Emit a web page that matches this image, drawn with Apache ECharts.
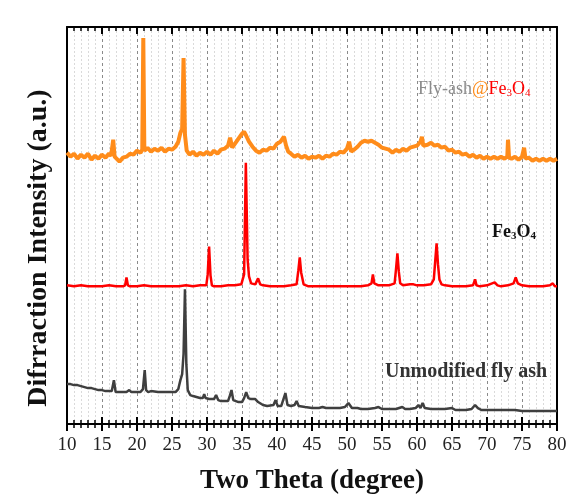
<!DOCTYPE html>
<html>
<head>
<meta charset="utf-8">
<script src="https://cdn.jsdelivr.net/npm/echarts@6/dist/echarts.min.js"></script>
<style>
  html, body { margin: 0; padding: 0; background: #fff; }
  #chart { width: 579px; height: 500px; }
</style>
</head>
<body>
<div id="chart"></div>
<script>
// 2θ 轴刻度
const xTicks = [10, 15, 20, 25, 30, 35, 40, 45, 50, 55, 60, 65, 70, 75, 80]

// Fly-ash@Fe3O4 (橙色, 偏移在最上面)
const flyAshFe3O4 = [
  [10, 272], [10.5, 268], [11, 271], [11.5, 266], [12, 270], [12.5, 267], [13, 271], [13.5, 265],
  [14, 269], [14.5, 266], [15, 270], [15.5, 267], [16, 271], [16.3, 269], [16.6, 285], [16.8, 268],
  [17, 266], [17.5, 263], [18, 267], [18.5, 268], [19, 271], [19.5, 270], [20, 274], [20.5, 272],
  [20.75, 275], [20.9, 387], [21.05, 274], [21.5, 277], [22, 273], [22.5, 276], [23, 274], [23.5, 277],
  [24, 273], [24.5, 276], [25, 275], [25.5, 278], [25.9, 283], [26.2, 292], [26.45, 296], [26.65, 367],
  [26.85, 290], [27.1, 274], [27.5, 270], [28, 273], [28.5, 269], [29, 272], [29.5, 270], [30, 273],
  [30.5, 270], [31, 274], [31.5, 271], [32, 275], [32.5, 276], [33, 279], [33.3, 287], [33.6, 277],
  [34, 281], [34.5, 286], [35, 291], [35.3, 293], [35.6, 289], [36, 283], [36.5, 278], [37, 274],
  [37.5, 272], [38, 275], [38.5, 274], [39, 277], [39.5, 276], [40, 281], [40.5, 283], [41, 288],
  [41.3, 279], [41.6, 273], [42, 271], [42.5, 268], [43, 270], [43.5, 267], [44, 269], [44.5, 266],
  [45, 268], [45.5, 267], [46, 269], [46.5, 266], [47, 269], [47.5, 268], [48, 271], [48.5, 270],
  [49, 273], [49.5, 272], [50, 276], [50.3, 283], [50.6, 273], [51, 275], [51.5, 278], [52, 282],
  [52.5, 284], [53, 283], [53.5, 284], [54, 282], [54.5, 280], [55, 277], [55.5, 276], [56, 275],
  [56.5, 272], [57, 275], [57.5, 273], [58, 276], [58.5, 274], [59, 277], [59.5, 278], [60, 279],
  [60.5, 283], [60.7, 288], [60.9, 279], [61.5, 280], [62, 282], [62.5, 279], [63, 280], [63.5, 277],
  [64, 278], [64.5, 274], [65, 275], [65.5, 272], [66, 273], [66.5, 270], [67, 271], [67.5, 268],
  [68, 270], [68.5, 267], [69, 269], [69.5, 266], [70, 268], [70.5, 266], [71, 268], [71.5, 266],
  [72, 268], [72.5, 266], [72.9, 268], [73, 285], [73.15, 267], [73.5, 266], [74, 268], [74.5, 265],
  [75, 268], [75.3, 277], [75.5, 266], [76, 267], [76.5, 264], [77, 266], [77.5, 264], [78, 266],
  [78.5, 264], [79, 266], [79.5, 264], [80, 266]
]

// Fe3O4 (红色)
const fe3o4 = [
  [10, 139], [11, 138], [12, 139], [13, 138], [14, 138], [15, 138], [16, 139], [17, 138],
  [18, 138], [18.3, 139], [18.5, 147], [18.7, 139], [19, 138], [20, 138], [21, 139], [22, 138],
  [23, 138], [24, 138], [25, 138], [26, 138], [27, 139], [28, 138], [29, 139], [29.9, 139],
  [30.1, 150], [30.3, 178], [30.5, 149], [30.7, 139], [31, 138], [32, 138], [33, 139], [34, 139],
  [34.9, 140], [35.3, 150], [35.55, 262], [35.8, 165], [36, 148], [36.3, 141], [36.9, 140], [37.3, 146],
  [37.6, 140], [38, 139], [39, 138], [40, 138], [41, 138], [42, 139], [42.8, 140], [43.05, 154],
  [43.25, 167], [43.45, 152], [43.8, 140], [44.5, 138], [45, 138], [46, 138], [47, 138], [48, 138],
  [49, 138], [50, 138], [51, 138], [52, 138], [53, 139], [53.5, 141], [53.7, 150], [53.9, 141],
  [54.5, 139], [55, 139], [56, 139], [56.8, 141], [57, 155], [57.2, 171], [57.4, 153], [57.6, 141],
  [58, 139], [59, 140], [59.2, 142], [59.5, 140], [60, 139], [61, 139], [62, 140], [62.4, 145],
  [62.6, 163], [62.8, 181], [63, 160], [63.2, 145], [63.5, 140], [64, 139], [65, 138], [66, 138],
  [67, 138], [68, 139], [68.3, 145], [68.5, 139], [69, 138], [70, 139], [71.1, 142], [71.5, 139],
  [72, 138], [73, 139], [73.8, 141], [74.1, 147], [74.4, 141], [75, 139], [76, 138], [77, 138],
  [78, 138], [79, 139], [79.4, 141], [79.7, 138], [80, 138]
]

// Unmodified fly ash (深灰)
const flyAsh = [
  [10, 40], [10.5, 40], [11, 39], [11.5, 39], [12, 38], [12.5, 37], [13, 36], [13.5, 36],
  [14, 35], [14.5, 34], [15, 34], [15.5, 33], [16, 33], [16.4, 33], [16.7, 44], [16.95, 32],
  [17.5, 32], [18, 32], [18.5, 32], [18.9, 34], [19.2, 32], [19.5, 32], [20, 32], [20.5, 32],
  [20.85, 35], [21.1, 54], [21.3, 34], [21.6, 32], [22, 33], [23, 32], [24, 32], [25, 32],
  [25.5, 32], [25.9, 35], [26.2, 44], [26.45, 50], [26.65, 70], [26.85, 135], [27.05, 60], [27.25, 34],
  [27.6, 29], [28, 28], [28.5, 27], [29, 26], [29.4, 26], [29.6, 30], [29.8, 26], [30.3, 25],
  [31, 25], [31.3, 29], [31.6, 24], [32, 23], [32.5, 23], [33, 23], [33.25, 28], [33.5, 34],
  [33.75, 24], [34, 22], [34.5, 22], [35, 22], [35.3, 26], [35.6, 32], [35.9, 26], [36.3, 25],
  [36.9, 25], [37.3, 22], [38, 19], [38.6, 18], [39.5, 19], [39.8, 24], [40.1, 18], [40.6, 18],
  [41.2, 31], [41.5, 19], [42, 18], [42.5, 19], [42.8, 23], [43.1, 18], [44, 17], [45, 16],
  [46, 16], [46.5, 17], [47, 16], [48, 16], [49, 16], [49.7, 17], [50.2, 21], [50.4, 23],
  [50.7, 16], [51.5, 16], [52, 15], [53, 15], [54, 16], [54.5, 17], [55, 15], [56, 15],
  [57, 15], [57.9, 17], [58.3, 15], [59, 15], [59.8, 16], [60.2, 19], [60.5, 16], [60.8, 21],
  [61.1, 16], [62, 15], [63, 15], [64, 15], [65, 16], [65.5, 14], [66, 14], [67, 14],
  [67.8, 15], [68.3, 19], [68.7, 16], [69.2, 14], [70, 14], [71, 14], [72, 14], [73, 14],
  [74, 14], [75, 13], [76, 13], [77, 13], [78, 13], [79, 13], [80, 13]
]

const SERIF = '"Liberation Serif", "DejaVu Serif", serif'

const chart = echarts.init(document.getElementById('chart'))

const baseX = {
  type: 'value',
  min: xTicks[0],
  max: xTicks[xTicks.length - 1],
  interval: 5
}

const option = {
  animation: false,
  backgroundColor: '#fff',
  grid: { left: 67, right: 22, top: 27, bottom: 75 },
  xAxis: [
    {
      ...baseX,
      position: 'bottom',
      axisLine: { show: true, lineStyle: { color: '#000', width: 2 } },
      axisTick: { show: true, inside: true, length: 7, lineStyle: { color: '#000', width: 2 } },
      minorTick: { show: true, splitNumber: 5, length: 4, lineStyle: { color: '#000', width: 1.5 } },
      axisLabel: { margin: 12, fontFamily: SERIF, fontSize: 19, color: '#222' },
      splitLine: { show: true, lineStyle: { color: '#8a8a8a', width: 1, type: [3, 3] } },
      minorSplitLine: { show: true, lineStyle: { color: '#dadada', width: 1, type: [2, 2] } },
      name: 'Two Theta (degree)',
      nameLocation: 'middle',
      nameGap: 44,
      nameTextStyle: { fontFamily: SERIF, fontSize: 27, fontWeight: 'bold', color: '#111' }
    },
    {
      ...baseX,
      position: 'bottom',
      axisLine: { show: false },
      axisTick: { show: true, inside: false, length: 7, lineStyle: { color: '#000', width: 2 } },
      minorTick: { show: true, splitNumber: 5, length: 4, lineStyle: { color: '#000', width: 1.5 } },
      axisLabel: { show: false },
      splitLine: { show: false }
    },
    {
      ...baseX,
      position: 'top',
      axisLine: { show: true, lineStyle: { color: '#000', width: 2 } },
      axisTick: { show: true, inside: true, length: 7, lineStyle: { color: '#000', width: 2 } },
      minorTick: { show: true, splitNumber: 5, length: 4, lineStyle: { color: '#000', width: 1.5 } },
      axisLabel: { show: false },
      splitLine: { show: false }
    }
  ],
  yAxis: [
    {
      type: 'value', min: 0, max: 398, position: 'left',
      axisLine: { show: true, lineStyle: { color: '#000', width: 2 } },
      axisTick: { show: false }, axisLabel: { show: false }, splitLine: { show: false }
    },
    {
      type: 'value', min: 0, max: 398, position: 'right',
      axisLine: { show: true, lineStyle: { color: '#000', width: 2 } },
      axisTick: { show: false }, axisLabel: { show: false }, splitLine: { show: false }
    }
  ],
  series: [
    {
      name: 'Fly-ash@Fe3O4', type: 'line', data: flyAshFe3O4, showSymbol: false,
      lineStyle: { color: '#ff8c1a', width: 4 }, z: 3
    },
    {
      name: 'Fe3O4', type: 'line', data: fe3o4, showSymbol: false,
      lineStyle: { color: '#ff0000', width: 2.5 }, z: 4
    },
    {
      name: 'Unmodified fly ash', type: 'line', data: flyAsh, showSymbol: false,
      lineStyle: { color: '#3f3f3f', width: 2.5 }, z: 5
    }
  ],
  graphic: [
    {
      type: 'text', z: 10,
      rotation: Math.PI / 2,
      x: 39, y: 248,
      style: {
        text: 'Difrraction Intensity (a.u.)',
        fontFamily: SERIF, fontSize: 28, fontWeight: 'bold', fill: '#111',
        align: 'center', verticalAlign: 'middle'
      }
    },
    {
      type: 'text', x: 418, y: 89, z: 10,
      style: {
        text: '{a|Fly-ash}{b|@}{c|Fe}{s|3}{c|O}{s|4}',
        align: 'left', verticalAlign: 'middle',
        rich: {
          a: { fontFamily: SERIF, fontSize: 18, lineHeight: 20, fill: '#8c8c8c' },
          b: { fontFamily: SERIF, fontSize: 18, lineHeight: 20, fill: '#ff8c1a' },
          c: { fontFamily: SERIF, fontSize: 18, lineHeight: 20, fill: '#ff0000' },
          s: { fontFamily: SERIF, fontSize: 11, lineHeight: 9, fill: '#ff0000', verticalAlign: 'bottom' }
        }
      }
    },
    {
      type: 'text', x: 492, y: 232, z: 10,
      style: {
        text: '{c|Fe}{s|3}{c|O}{s|4}',
        align: 'left', verticalAlign: 'middle',
        rich: {
          c: { fontFamily: SERIF, fontSize: 18, fontWeight: 'bold', lineHeight: 20, fill: '#111' },
          s: { fontFamily: SERIF, fontSize: 11, fontWeight: 'bold', lineHeight: 9, fill: '#111', verticalAlign: 'bottom' }
        }
      }
    },
    {
      type: 'text', x: 385, y: 372, z: 10,
      style: {
        text: 'Unmodified fly ash',
        fontFamily: SERIF, fontSize: 20, fontWeight: 'bold', fill: '#333',
        align: 'left', verticalAlign: 'middle'
      }
    }
  ]
}

chart.setOption(option)
</script>
</body>
</html>
